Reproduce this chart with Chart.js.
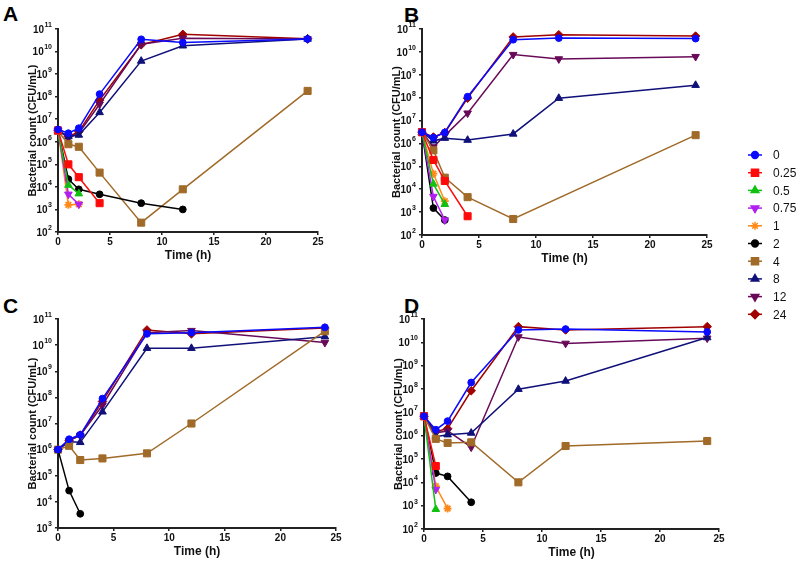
<!DOCTYPE html>
<html>
<head>
<meta charset="utf-8">
<script src="https://cdn.jsdelivr.net/npm/chart.js@4.4.0/dist/chart.umd.min.js"></script>
<style>
  body { margin: 0; background: #fff; width: 800px; height: 562px; position: relative; overflow: hidden; font-family: "Liberation Sans", Arial, sans-serif; }
  canvas { position: absolute; }
  .tag { position: absolute; font: bold 21px "Liberation Sans", Arial, sans-serif; color: #000; }
</style>
</head>
<body>
<div class="tag" style="left:3px;top:2px">A</div>
<div class="tag" style="left:404px;top:3px">B</div>
<div class="tag" style="left:3px;top:294px">C</div>
<div class="tag" style="left:404px;top:294px">D</div>
<canvas id="chartA"></canvas>
<canvas id="chartB"></canvas>
<canvas id="chartC"></canvas>
<canvas id="chartD"></canvas>
<canvas id="legend"></canvas>
<script>
// sampling times (h)
const times = [0, 1, 2, 4, 8, 12, 24];
// concentrations (legend)
const concLabels = ['0', '0.25', '0.5', '0.75', '1', '2', '4', '8', '12', '24'];
const colors = ['#0a0aff', '#ff0a0a', '#12c012', '#b020f0', '#ff8a1a', '#000000', '#a06a28', '#10107a', '#680a58', '#a00000'];
const markers = ['circle', 'rect', 'triangle', 'triangle', 'star', 'circle', 'rect', 'triangle', 'triangle', 'rectRot'];
const rotations = [0, 0, 0, 180, 0, 0, 0, 0, 180, 0];
const markerSizes = [3.4, 5, 4.4, 4.4, 4, 3.4, 5, 4.4, 4.4, 4.3];
const yTicks = [1e2, 1e3, 1e4, 1e5, 1e6, 1e7, 1e8, 1e9, 1e10, 1e11];

// one row per concentration, one value per time point (null = no count)
const panelA = [
    [3.5e6, 2.4e6, 4e6, 1.3e8, 3.5e10, 2.5e10, 3.6e10],
    [3.2e6, 1e5, 2.7e4, 1.9e3, null, null, null],
    [3.2e6, 1.2e4, 5e3, null, null, null, null],
    [3.2e6, 4.7e3, 1.7e3, null, null, null, null],
    [3.2e6, 1.6e3, 1.7e3, null, null, null, null],
    [3.2e6, 2.2e4, 7.8e3, 4.7e3, 1.9e3, 1e3, null],
    [3e6, 7.8e5, 6e5, 4.3e4, 2.6e2, 7.8e3, 1.8e8],
    [3.2e6, 1.7e6, 2e6, 2e7, 3.8e9, 1.8e10, 3.6e10],
    [3.2e6, 1.5e6, 2.4e6, 4.6e7, 2.1e10, 3.9e10, 3.6e10],
    [3.2e6, 1.7e6, 2.8e6, 7e7, 2e10, 5.8e10, 3.7e10]
];
const panelB = [
    [3.1e6, 1.8e6, 3e6, 1.1e8, 3.4e10, 4e10, 3.8e10],
    [3.1e6, 1.9e5, 2.3e4, 6.6e2, null, null, null],
    [3.1e6, 1.7e4, 2.2e3, null, null, null, null],
    [3.1e6, 4.8e3, 4.5e2, null, null, null, null],
    [3.1e6, 4.8e4, 3e3, null, null, null, null],
    [3.1e6, 1.5e3, 4.5e2, null, null, null, null],
    [3.1e6, 5e5, 3.2e4, 4.5e3, 5e2, null, 2.3e6],
    [3.1e6, 1.3e6, 1.7e6, 1.4e6, 2.6e6, 9.5e7, 3.5e8],
    [3.1e6, 7e5, 2.2e6, 2.1e7, 7.6e9, 4.9e9, 6.2e9],
    [3.1e6, 1.9e6, 3e6, 9.5e7, 4.5e10, 5.6e10, 4.9e10]
];
const panelC = [
    [1e6, 2.5e6, 3.7e6, 9e7, 2.7e10, 3e10, 4.8e10],
    [null, null, null, null, null, null, null],
    [null, null, null, null, null, null, null],
    [null, null, null, null, null, null, null],
    [null, null, null, null, null, null, null],
    [1e6, 2.7e4, 3.5e3, null, null, null, null],
    [1e6, 1.4e6, 4e5, 4.6e5, 7.2e5, 1e7, 3.4e10],
    [1e6, 2e6, 1.9e6, 2.8e7, 7.6e9, 7.6e9, 2.1e10],
    [1e6, 2.2e6, 3.5e6, 5e7, 3e10, 3.6e10, 1.25e10],
    [1e6, 2.2e6, 3.6e6, 7e7, 3.8e10, 2.7e10, 4.5e10]
];
const panelD = [
    [6.8e6, 1.8e6, 4.2e6, 1.9e8, 3.4e10, 3.7e10, 2.8e10],
    [6.8e6, 5e4, null, null, null, null, null],
    [6.8e6, 7e2, null, null, null, null, null],
    [6.8e6, 4.9e3, null, null, null, null, null],
    [6.8e6, 6.8e3, 7.5e2, null, null, null, null],
    [6.8e6, 2.5e4, 1.8e4, 1.4e3, null, null, null],
    [6.8e6, 7.3e5, 4.9e5, 5.2e5, 1e4, 3.6e5, 5.9e5],
    [6.8e6, 9e5, 1.1e6, 1.3e6, 9.8e7, 2.2e8, 1.6e10],
    [6.8e6, 1.3e6, 1.6e6, 3.2e5, 1.7e10, 9e9, 1.5e10],
    [6.8e6, 1.5e6, 2e6, 8.4e7, 4.7e10, 3.4e10, 4.7e10]
];

const FONT = '"Liberation Sans", Arial, sans-serif';

function makeDatasets(rows) {
    return rows.map((vals, i) => ({
        label: concLabels[i],
        data: times.map((t, j) => ({ x: t, y: vals[j] })).filter(p => p.y !== null),
        borderColor: colors[i],
        backgroundColor: colors[i],
        borderWidth: 1.5,
        pointStyle: markers[i],
        rotation: rotations[i],
        pointRadius: markerSizes[i],
        pointBorderWidth: markers[i] === 'star' ? 1.8 : 1,
        tension: 0,
        clip: false
    }));
}

// y tick labels as 10 with a superscript exponent
const powerLabels = {
    id: 'powerLabels',
    afterDraw(chart) {
        const ctx = chart.ctx;
        const y = chart.scales.y;
        ctx.save();
        ctx.fillStyle = '#111';
        ctx.textBaseline = 'middle';
        y.ticks.forEach(t => {
            const py = y.getPixelForValue(t.value);
            const exp = String(Math.round(Math.log10(t.value)));
            ctx.font = 'bold 7px ' + FONT;
            const ew = ctx.measureText(exp).width;
            const right = y.right - 6;
            ctx.textAlign = 'left';
            ctx.fillText(exp, right - ew, py - 4);
            ctx.font = 'bold 10px ' + FONT;
            ctx.textAlign = 'right';
            ctx.fillText('10', right - ew - 0.5, py + 1);
        });
        ctx.restore();
    }
};

function drawPanel(id, rows, yMin, box) {
    const el = document.getElementById(id);
    el.width = box.w;
    el.height = box.h;
    el.style.left = box.left + 'px';
    el.style.top = box.top + 'px';
    new Chart(el, {
        type: 'line',
        data: { datasets: makeDatasets(rows) },
        plugins: [powerLabels],
        options: {
            responsive: false,
            animation: false,
            devicePixelRatio: 1,
            layout: { padding: { left: 0, top: box.T - box.top, right: box.left + box.w - box.R, bottom: box.top + box.h - box.B - 31 } },
            plugins: { legend: { display: false }, tooltip: { enabled: false } },
            scales: {
                x: {
                    type: 'linear', min: 0, max: 25,
                    afterFit: s => { s.height = 31; },
                    ticks: { stepSize: 5, color: '#111', padding: 1, font: { family: FONT, size: 10, weight: 'bold' } },
                    grid: { drawOnChartArea: false, tickLength: 3, color: '#222', lineWidth: 1.5 },
                    border: { color: '#222', width: 2 },
                    title: { display: true, text: 'Time (h)', color: '#111', padding: 0, font: { family: FONT, size: 12, weight: 'bold' } }
                },
                y: {
                    type: 'logarithmic', min: yMin, max: 1e11,
                    afterBuildTicks: s => { s.ticks = yTicks.filter(v => v >= yMin).map(v => ({ value: v })); },
                    afterFit: s => { s.width = box.L - box.left; },
                    ticks: { callback: () => '', padding: 0 },
                    grid: { drawOnChartArea: false, tickLength: 3, color: '#222', lineWidth: 1.5 },
                    border: { color: '#222', width: 2 },
                    title: { display: true, text: 'Bacterial count (CFU/mL)', color: '#111', padding: { top: 26, bottom: 0 }, font: { family: FONT, size: 11, weight: 'bold' } }
                }
            }
        }
    });
}

drawPanel('chartA', panelA, 1e2, { left: 0, top: 0, w: 336, h: 275, L: 58, R: 318, T: 29, B: 232 });
drawPanel('chartB', panelB, 1e2, { left: 364, top: 0, w: 370, h: 275, L: 422, R: 707, T: 29, B: 235 });
drawPanel('chartC', panelC, 1e3, { left: 0, top: 280, w: 356, h: 282, L: 58, R: 336, T: 319, B: 528 });
drawPanel('chartD', panelD, 1e2, { left: 366, top: 280, w: 370, h: 282, L: 424, R: 719, T: 319, B: 529 });

// legend: line + marker + label, markers drawn by Chart.js helpers
const legendEl = document.getElementById('legend');
legendEl.width = 60; legendEl.height = 190;
legendEl.style.left = '740px'; legendEl.style.top = '140px';
new Chart(legendEl, {
    type: 'line',
    data: { datasets: makeDatasets(panelA) },
    plugins: [{
        id: 'seriesKey',
        afterDraw(chart) {
            const ctx = chart.ctx;
            ctx.save();
            chart.data.datasets.forEach((ds, i) => {
                const y = 15 + i * 17.7;
                ctx.strokeStyle = ds.borderColor;
                ctx.lineWidth = 1.5;
                ctx.beginPath(); ctx.moveTo(8, y); ctx.lineTo(22, y); ctx.stroke();
                ctx.fillStyle = ds.backgroundColor;
                Chart.helpers.drawPoint(ctx, { pointStyle: ds.pointStyle, rotation: ds.rotation, radius: ds.pointRadius, borderWidth: ds.pointBorderWidth }, 15, y);
                ctx.fillStyle = '#111';
                ctx.font = '12px ' + FONT;
                ctx.textBaseline = 'middle';
                ctx.fillText(ds.label, 33, y + 1);
            });
            ctx.restore();
        }
    }],
    options: {
        responsive: false, animation: false, devicePixelRatio: 1,
        plugins: { legend: { display: false }, tooltip: { enabled: false } },
        scales: { x: { display: false, type: 'linear', min: 1000, max: 1001 }, y: { display: false, min: 1000, max: 1001 } }
    }
});
</script>
</body>
</html>
